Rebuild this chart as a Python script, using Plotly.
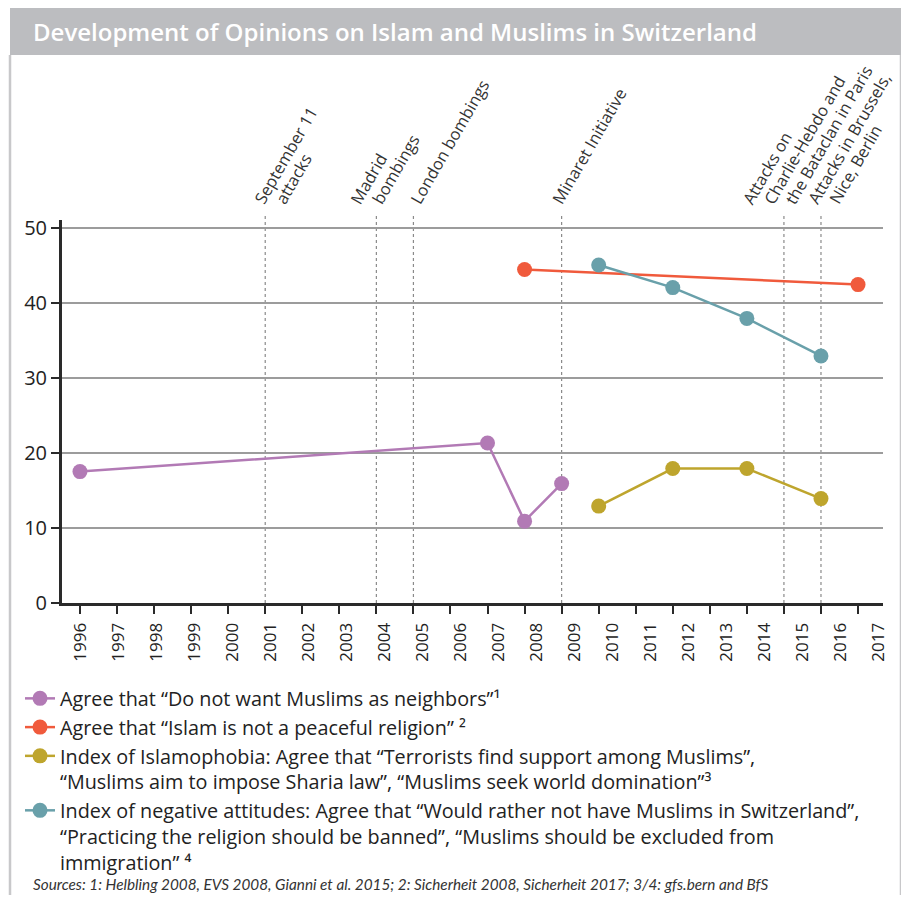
import plotly.graph_objects as go

# ---------------- data ----------------
years = list(range(1996, 2018))

neighbors_x = [1996, 2007, 2008, 2009]
neighbors_y = [17.5, 21.3, 10.9, 15.9]

peaceful_x = [2008, 2017]
peaceful_y = [44.4, 42.4]

islamophobia_x = [2010, 2012, 2014, 2016]
islamophobia_y = [12.9, 17.9, 17.9, 13.9]

negative_x = [2010, 2012, 2014, 2016]
negative_y = [45.0, 42.0, 37.9, 32.9]

event_years = [2001, 2004, 2005, 2009, 2015, 2016]
event_labels = [
    ["September 11", "attacks"],
    ["Madrid", "bombings"],
    ["London bombings"],
    ["Minaret Initiative"],
    ["Attacks on", "Charlie-Hebdo and", "the Bataclan in Paris"],
    ["Attacks in Brussels,", "Nice, Berlin"],
]

series_names = [
    "Agree that “Do not want Muslims as neighbors”¹",
    "Agree that “Islam is not a peaceful religion” ²",
    "Index of Islamophobia: Agree that “Terrorists find support among Muslims”,<br>"
    "“Muslims aim to impose Sharia law”, “Muslims seek world domination”³",
    "Index of negative attitudes: Agree that “Would rather not have Muslims in Switzerland”,<br>"
    "“Practicing the religion should be banned”, “Muslims should be excluded from<br>"
    "immigration” ⁴",
]
title_text = "Development of Opinions on Islam and Muslims in Switzerland"
source_text = ("Sources: 1: Helbling 2008, EVS 2008, Gianni et al. 2015; "
               "2: Sicherheit 2008, Sicherheit 2017; 3/4: gfs.bern and BfS")

# ---------------- styles / layout ----------------
colors = ["#b27ab5", "#f05a3c", "#bea52d", "#69a0aa"]
FONT = "Open Sans"
OFF = 8                      # page body margin
W, H = 909 - 2 * OFF, 903 - 2 * OFF
L, R, T, B = 62, 883, 220, 603   # plot area in page pixels
label_first_offsets = [-8, -23, 0, -7, -38, -10]   # px of first line start vs event line
LINE_STEP = 21               # horizontal step between label lines
EV_SIZE = 16.5


def px(x):
    return (x - L) / (R - L)


def py(y):
    return (B - y) / (B - T)


fig = go.Figure()
for xs, ys, name, c in zip(
    [neighbors_x, peaceful_x, islamophobia_x, negative_x],
    [neighbors_y, peaceful_y, islamophobia_y, negative_y],
    series_names, colors,
):
    fig.add_trace(go.Scatter(
        x=xs, y=ys, name=name, mode="lines+markers",
        line=dict(color=c, width=2.5),
        marker=dict(color=c, size=15),
        hoverinfo="x+y",
    ))

# invisible trace carrying the year-label axis
fig.add_trace(go.Scatter(x=years, y=[None] * len(years), xaxis="x2",
                         showlegend=False, hoverinfo="skip", mode="markers"))

shapes = []
shapes.append(dict(type="rect", xref="paper", yref="paper",
                   x0=px(10), x1=px(902), y0=py(55), y1=py(6),
                   fillcolor="#bcbdc0", line=dict(width=0), layer="below"))
for fx in (10, 901):
    shapes.append(dict(type="line", xref="paper", yref="paper",
                       x0=px(fx), x1=px(fx), y0=py(55), y1=py(910),
                       line=dict(color="#c8c8ca", width=2.5)))
for ey in event_years:
    shapes.append(dict(type="line", xref="x", yref="paper",
                       x0=ey, x1=ey, y0=0, y1=py(214),
                       line=dict(color="#8a8a8a", width=1.2, dash="dot"),
                       layer="below"))

annotations = []
annotations.append(dict(text=title_text, xref="paper", yref="paper",
                        x=px(31), y=py(31), xanchor="left", yanchor="middle",
                        showarrow=False,
                        font=dict(family=FONT, size=24, color="white", weight=600)))

h1 = 1.3 * EV_SIZE + 2
for ey, lines, off in zip(event_years, event_labels, label_first_offsets):
    for k, txt in enumerate(lines):
        annotations.append(dict(text=txt, xref="x", yref="paper", x=ey, y=py(211),
                                xanchor="left", yanchor="bottom",
                                textangle=-60, showarrow=False,
                                xshift=off + k * LINE_STEP - 0.866 * h1 + 9,
                                font=dict(family=FONT, size=EV_SIZE, color="#333333")))

annotations.append(dict(text="<i>" + source_text + "</i>", xref="paper", yref="paper",
                        x=px(31), y=py(884), xanchor="left", yanchor="middle",
                        showarrow=False,
                        font=dict(family="Lato", size=15.3, color="#333333")))

fig.update_layout(
    width=W, height=H,
    margin=dict(l=L - OFF, r=(OFF + W) - R, t=T - OFF, b=(OFF + H) - B),
    paper_bgcolor="white", plot_bgcolor="white",
    font=dict(family=FONT, color="#222222"),
    shapes=shapes, annotations=annotations,
    showlegend=True,
    legend=dict(x=px(20), y=py(679), xanchor="left", yanchor="top",
                valign="top",
                bgcolor="rgba(0,0,0,0)", tracegroupgap=0, itemwidth=30,
                font=dict(family=FONT, size=19.8, color="#222222")),
    xaxis=dict(range=[1995.515, 2017.674], dtick=1, tick0=1996,
               showgrid=False, zeroline=False, showticklabels=False,
               showline=True, linecolor="#2a2a2a", linewidth=3,
               ticks="outside", ticklen=8, tickwidth=1.5, tickcolor="#2a2a2a"),
    xaxis2=dict(overlaying="x", anchor="y", side="bottom",
                range=[1995.526, 2017.13], tickvals=years,
                ticktext=[str(y) for y in years], tickangle=-90,
                showgrid=False, zeroline=False, showline=False,
                ticks="outside", ticklen=12, tickcolor="rgba(0,0,0,0)",
                tickfont=dict(family=FONT, size=17, color="#222222")),
    yaxis=dict(range=[0, 51], tickvals=[0, 10, 20, 30, 40, 50],
               showgrid=True, gridcolor="#9c9c9c", gridwidth=1.5,
               zeroline=False, showline=True, linecolor="#2a2a2a", linewidth=3,
               ticks="outside", ticklen=8, tickwidth=2, tickcolor="#2a2a2a",
               tickfont=dict(family=FONT, size=20, color="#222222")),
)

fig.write_html("out.html")
